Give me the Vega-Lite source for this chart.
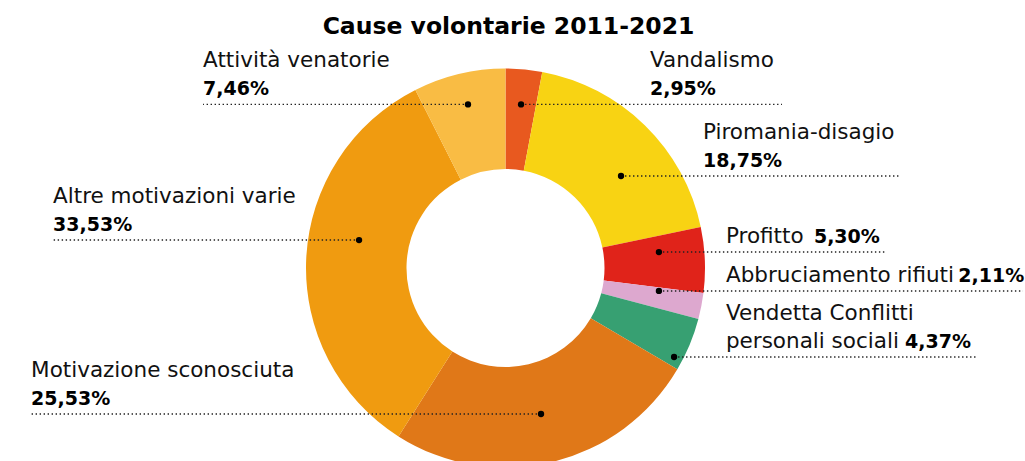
{
  "$schema": "https://vega.github.io/schema/vega-lite/v6.json",
  "autosize": {"type": "none"},
  "width": 1011,
  "height": 386,
  "padding": {"left": 0, "top": 75, "right": 14, "bottom": 0},
  "background": "white",
  "title": {
    "text": "Cause volontarie 2011-2021",
    "font": "DejaVu Sans",
    "fontSize": 23.5,
    "fontWeight": "bold",
    "color": "#000000",
    "anchor": "middle",
    "baseline": "alphabetic",
    "offset": -7,
    "dx": 3
  },
  "config": {
    "view": {"stroke": null},
    "text": {"font": "DejaVu Sans", "fontSize": 21.5, "color": "#111111"}
  },
  "data": {
    "values": [
      {"cat": "Vandalismo", "value": 2.95, "ord": 1, "line1": "Vandalismo", "line2": "", "pct": "2,95%", "tx": 0.724, "px": 0.724, "ly": 0.82, "xdot": 0.078, "xend": 1.386},
      {"cat": "Piromania-disagio", "value": 18.75, "ord": 2, "line1": "Piromania-disagio", "line2": "", "pct": "18,75%", "tx": 0.99, "px": 0.99, "ly": 0.461, "xdot": 0.579, "xend": 1.977},
      {"cat": "Profitto", "value": 5.30, "ord": 3, "line1": "", "line2": "Profitto", "pct": "5,30%", "tx": 1.105, "px": 1.546, "ly": 0.08, "xdot": 0.769, "xend": 1.902},
      {"cat": "Abbruciamento rifiuti", "value": 2.11, "ord": 4, "line1": "", "line2": "Abbruciamento rifiuti", "pct": "2,11%", "tx": 1.105, "px": 2.27, "ly": -0.115, "xdot": 0.769, "xend": 2.594},
      {"cat": "Vendetta Conflitti personali sociali", "value": 4.37, "ord": 5, "line1": "Vendetta Conflitti", "line2": "personali sociali", "pct": "4,37%", "tx": 1.105, "px": 2.003, "ly": -0.446, "xdot": 0.845, "xend": 2.368},
      {"cat": "Motivazione sconosciuta", "value": 25.53, "ord": 6, "line1": "Motivazione sconosciuta", "line2": "", "pct": "25,53%", "tx": -2.378, "px": -2.378, "ly": -0.732, "xdot": 0.178, "xend": -2.378},
      {"cat": "Altre motivazioni varie", "value": 33.53, "ord": 7, "line1": "Altre motivazioni varie", "line2": "", "pct": "33,53%", "tx": -2.268, "px": -2.268, "ly": 0.14, "xdot": -0.734, "xend": -2.268},
      {"cat": "Attività venatorie", "value": 7.46, "ord": 8, "line1": "Attività venatorie", "line2": "", "pct": "7,46%", "tx": -1.516, "px": -1.516, "ly": 0.82, "xdot": -0.188, "xend": -1.516}
    ]
  },
  "layer": [
    {
      "mark": {"type": "arc", "outerRadius": 199.5, "innerRadius": 99},
      "encoding": {
        "theta": {"field": "value", "type": "quantitative", "stack": true},
        "order": {"field": "ord", "type": "quantitative"},
        "color": {
          "field": "cat",
          "type": "nominal",
          "legend": null,
          "scale": {
            "domain": ["Vandalismo", "Piromania-disagio", "Profitto", "Abbruciamento rifiuti", "Vendetta Conflitti personali sociali", "Motivazione sconosciuta", "Altre motivazioni varie", "Attività venatorie"],
            "range": ["#E8591F", "#F8D313", "#E0231A", "#DDA8CF", "#37A072", "#E07818", "#F09B10", "#F9BC44"]
          }
        }
      }
    },
    {
      "mark": {"type": "rule", "strokeDash": [1.4, 2.6], "strokeWidth": 1.4, "color": "#222222"},
      "encoding": {
        "x": {"field": "xdot", "type": "quantitative", "scale": {"domain": [-2.5338, 2.5338], "nice": false, "zero": false}, "axis": null},
        "x2": {"field": "xend"},
        "y": {"field": "ly", "type": "quantitative", "scale": {"domain": [-0.9674, 0.9674], "nice": false, "zero": false}, "axis": null}
      }
    },
    {
      "mark": {"type": "point", "filled": true, "size": 40, "color": "#000000", "opacity": 1},
      "encoding": {
        "x": {"field": "xdot", "type": "quantitative"},
        "y": {"field": "ly", "type": "quantitative"}
      }
    },
    {
      "mark": {"type": "text", "align": "left", "baseline": "alphabetic", "dy": -37},
      "encoding": {
        "x": {"field": "tx", "type": "quantitative"},
        "y": {"field": "ly", "type": "quantitative"},
        "text": {"field": "line1"}
      }
    },
    {
      "mark": {"type": "text", "align": "left", "baseline": "alphabetic", "dy": -9},
      "encoding": {
        "x": {"field": "tx", "type": "quantitative"},
        "y": {"field": "ly", "type": "quantitative"},
        "text": {"field": "line2"}
      }
    },
    {
      "mark": {"type": "text", "align": "left", "baseline": "alphabetic", "dy": -9, "fontWeight": "bold", "fontSize": 19, "color": "#000000"},
      "encoding": {
        "x": {"field": "px", "type": "quantitative"},
        "y": {"field": "ly", "type": "quantitative"},
        "text": {"field": "pct"}
      }
    }
  ],
  "resolve": {"scale": {"x": "shared", "y": "shared"}}
}
